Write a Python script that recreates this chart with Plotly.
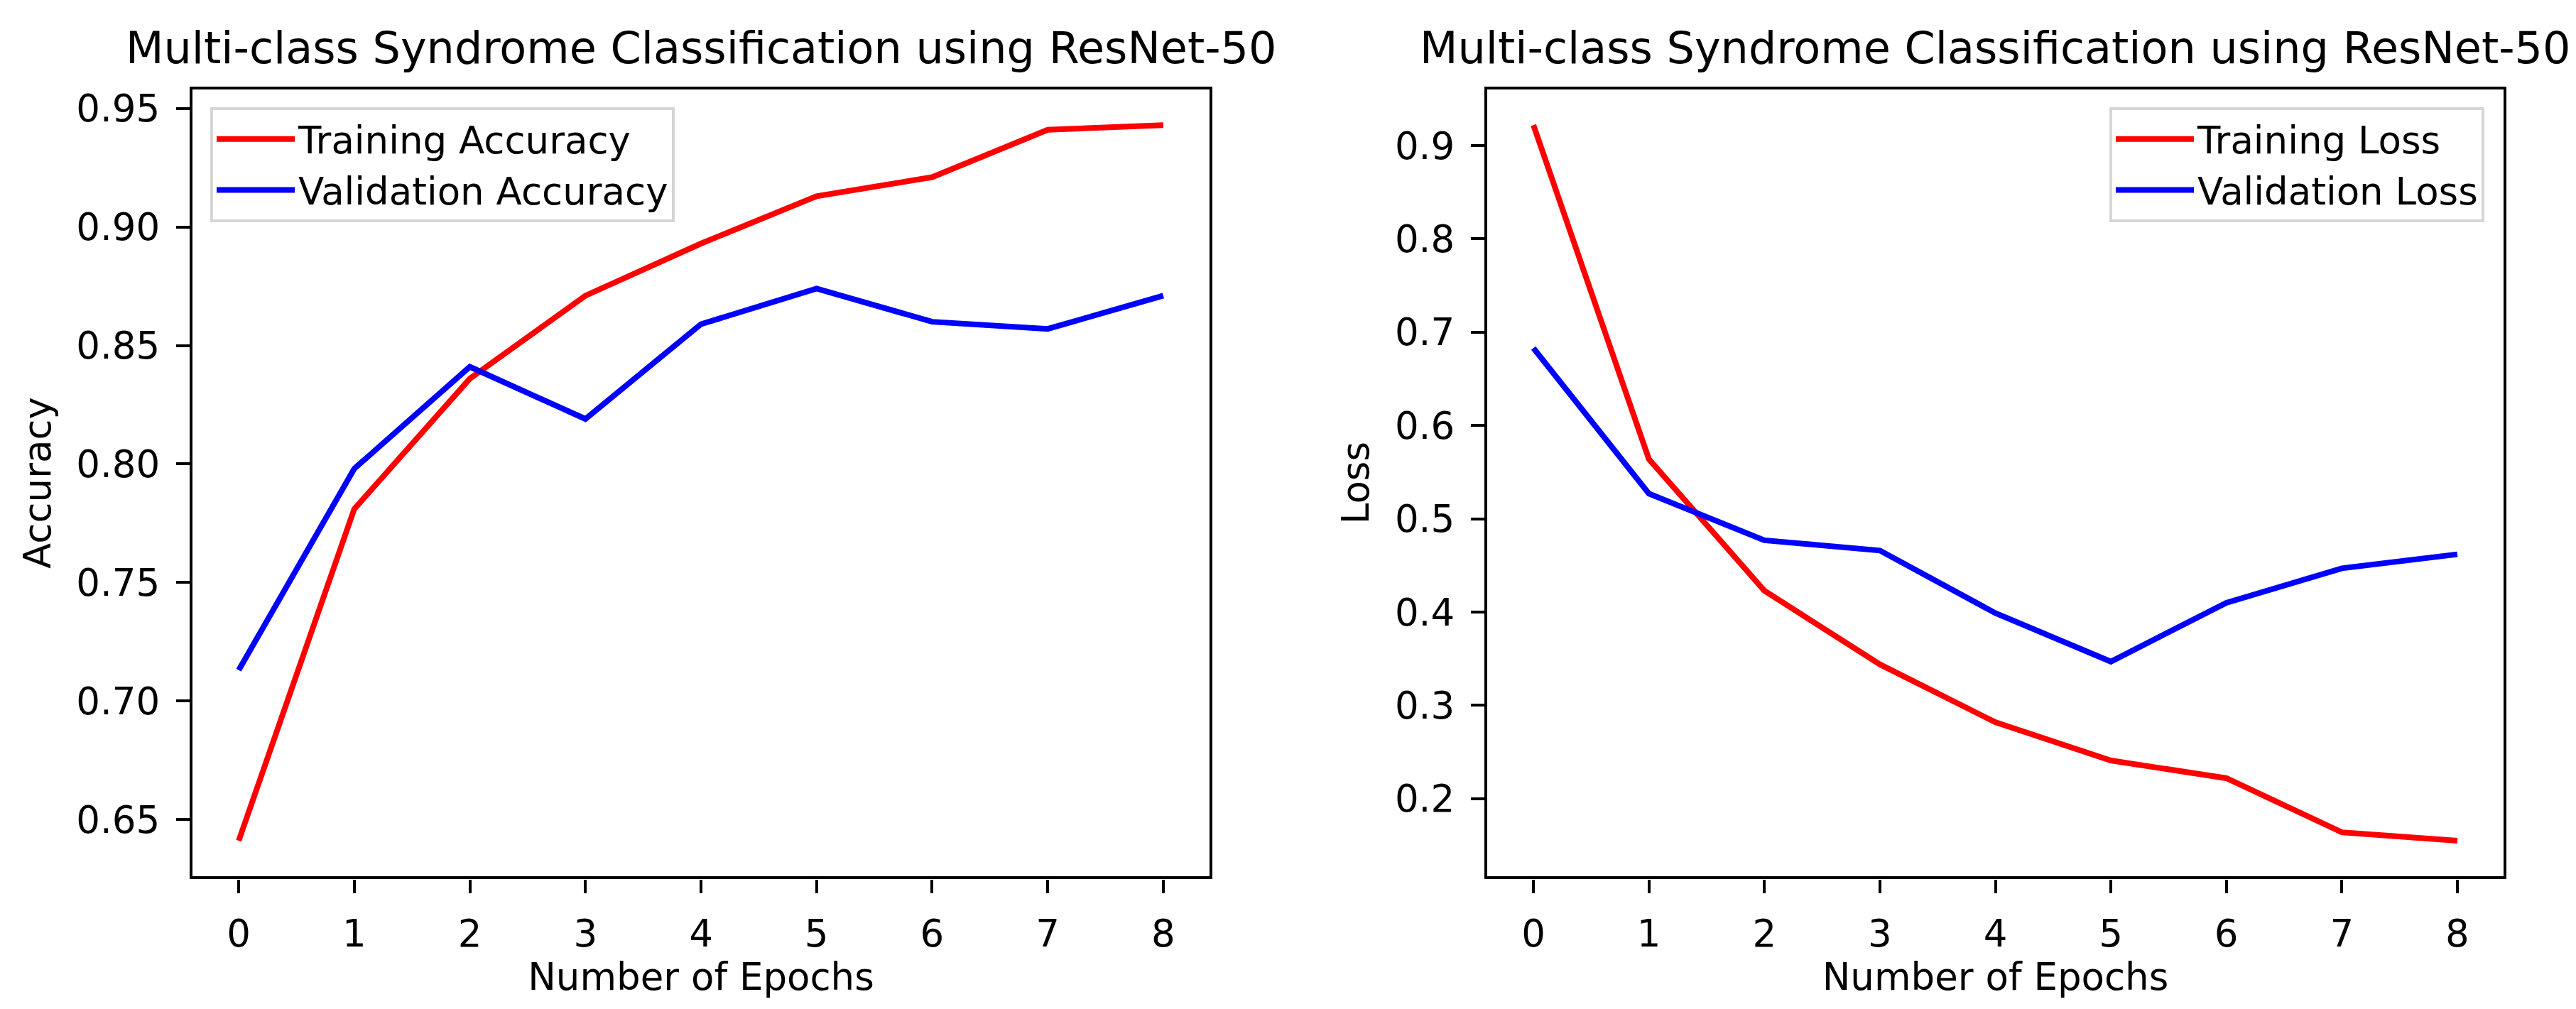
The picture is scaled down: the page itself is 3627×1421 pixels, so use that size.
import plotly.graph_objects as go

epochs = [0, 1, 2, 3, 4, 5, 6, 7, 8]
train_acc = [0.641, 0.781, 0.836, 0.871, 0.893, 0.913, 0.921, 0.941, 0.943]
val_acc = [0.713, 0.798, 0.841, 0.819, 0.859, 0.874, 0.860, 0.857, 0.871]
train_loss = [0.922, 0.564, 0.423, 0.344, 0.282, 0.241, 0.222, 0.164, 0.155]
val_loss = [0.683, 0.527, 0.477, 0.466, 0.399, 0.347, 0.410, 0.447, 0.462]

acc_ticks = [0.65, 0.70, 0.75, 0.80, 0.85, 0.90, 0.95]
loss_ticks = [0.2, 0.3, 0.4, 0.5, 0.6, 0.7, 0.8, 0.9]
title_text = "Multi-class Syndrome Classification using ResNet-50"

W, H = 3627, 1421
FONT = "DejaVu Sans"
FS = 53
TFS = 62
LW = 8


def pad_range(*series):
    vals = [v for s in series for v in s]
    lo, hi = min(vals), max(vals)
    m = 0.05 * (hi - lo)
    return [lo - m, hi + m]


fig = go.Figure()
fig.add_trace(go.Scatter(x=epochs, y=train_acc, mode="lines", name="Training Accuracy",
                         line=dict(color="#ff0000", width=LW), xaxis="x", yaxis="y", legend="legend"))
fig.add_trace(go.Scatter(x=epochs, y=val_acc, mode="lines", name="Validation Accuracy",
                         line=dict(color="#0000ff", width=LW), xaxis="x", yaxis="y", legend="legend"))
fig.add_trace(go.Scatter(x=epochs, y=train_loss, mode="lines", name="Training Loss",
                         line=dict(color="#ff0000", width=LW), xaxis="x2", yaxis="y2", legend="legend2"))
fig.add_trace(go.Scatter(x=epochs, y=val_loss, mode="lines", name="Validation Loss",
                         line=dict(color="#0000ff", width=LW), xaxis="x2", yaxis="y2", legend="legend2"))

x1d = [263 / W, 1695 / W]
x2d = [2086 / W, 3517 / W]
yd = [1 - 1226 / H, 1 - 115 / H]

axis_common = dict(
    showline=True, mirror=True, linecolor="#000000", linewidth=4.4,
    ticks="outside", ticklen=19, tickwidth=4.4, tickcolor="#000000",
    showgrid=False, zeroline=False, ticklabelstandoff=12,
    tickfont=dict(family=FONT, size=FS, color="#000000"),
)

legend_common = dict(
    bgcolor="rgba(255,255,255,0.8)", bordercolor="#d6d6d6", borderwidth=4,
    font=dict(family=FONT, size=FS, color="#000000"), itemwidth=110,
    tracegroupgap=0, yanchor="top", y=1 - 140 / H,
)

fig.update_layout(
    width=W, height=H,
    margin=dict(l=0, r=0, t=0, b=0),
    paper_bgcolor="white", plot_bgcolor="white",
    font=dict(family=FONT, size=FS, color="#000000"),
    xaxis=dict(domain=x1d, anchor="y", range=[-0.4, 8.4], tickvals=epochs,
               title=dict(text="Number of Epochs", font=dict(family=FONT, size=FS), standoff=0),
               **axis_common),
    yaxis=dict(domain=yd, anchor="x", range=pad_range(train_acc, val_acc), tickvals=acc_ticks,
               tickformat=".2f",
               title=dict(text="Accuracy", font=dict(family=FONT, size=FS), standoff=20),
               **axis_common),
    xaxis2=dict(domain=x2d, anchor="y2", range=[-0.4, 8.4], tickvals=epochs,
                title=dict(text="Number of Epochs", font=dict(family=FONT, size=FS), standoff=0),
                **axis_common),
    yaxis2=dict(domain=yd, anchor="x2", range=pad_range(train_loss, val_loss), tickvals=loss_ticks,
                tickformat=".1f",
                title=dict(text="Loss", font=dict(family=FONT, size=FS), standoff=20),
                **axis_common),
    legend=dict(x=288 / W, xanchor="left", **legend_common),
    legend2=dict(x=3490 / W, xanchor="right", **legend_common),
    showlegend=True,
    annotations=[
        dict(text=title_text, xref="paper", yref="paper",
             x=(x1d[0] + x1d[1]) / 2, y=yd[1], xanchor="center", yanchor="bottom",
             yshift=20, showarrow=False, font=dict(family=FONT, size=TFS, color="#000000")),
        dict(text=title_text, xref="paper", yref="paper",
             x=(x2d[0] + x2d[1]) / 2, y=yd[1], xanchor="center", yanchor="bottom",
             yshift=20, showarrow=False, font=dict(family=FONT, size=TFS, color="#000000")),
    ],
)

fig.write_html("out.html")
